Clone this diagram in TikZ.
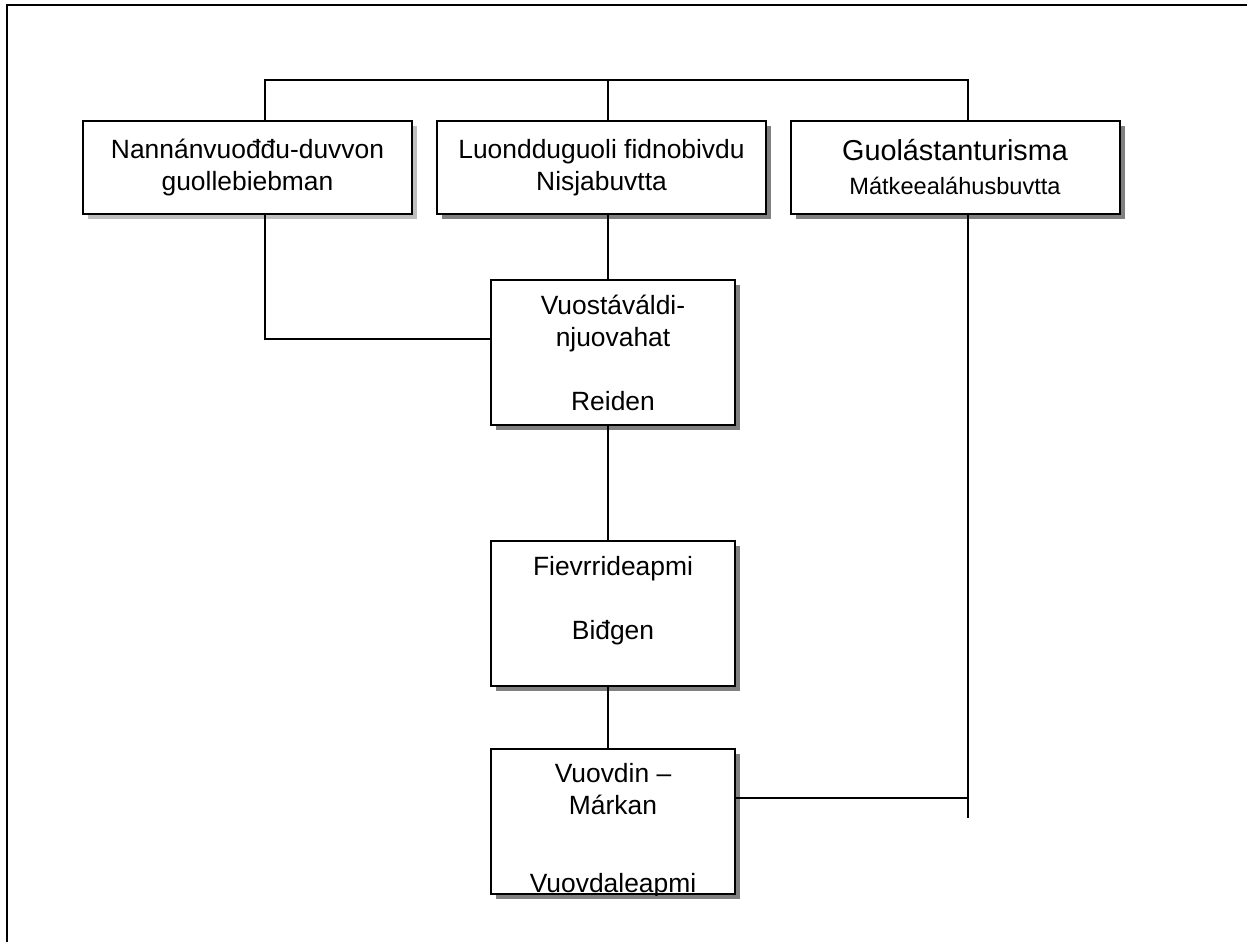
\documentclass[tikz,border=0pt]{standalone}
\usepackage{fontspec}
\setmainfont{Liberation Sans}
\usepackage{tikz}
\usetikzlibrary{positioning,shadows}
\definecolor{suoivan}{gray}{0.5}
\definecolor{suoivanc}{gray}{0.75}
\tikzset{
  boks/.style={rectangle,draw=black,line width=1pt,fill=white,align=center,
    minimum width=164.5pt,minimum height=46.5pt,inner sep=0pt,
    font=\fontsize{13.2}{16}\selectfont,
    drop shadow={shadow xshift=2.5pt,shadow yshift=-2.5pt,fill=#1,opacity=1}},
  boks/.default=suoivan,
  boksg/.style={boks,minimum width=122pt,minimum height=72.5pt},
  teaksta/.style={align=center,inner sep=0pt,font=\fontsize{13.2}{16}\selectfont},
  linja/.style={line width=0.75pt,black},
  ramma/.style={line width=1pt,black},
}

\begin{document}
\begin{tikzpicture}[x=0.5pt,y=-0.5pt]
  \useasboundingbox (0,0) rectangle (1247,942);
  \draw[ramma] (1247,5) -- (7,5) -- (7,942);
  % bajimus ossodagat
  \node[boks=suoivanc] (biebman) at (247.5,167.5) {Nannánvuođđu-duvvon\\guollebiebman};
  \node[boks] (bivdu) at (601.5,167.5) {Luondduguoli fidnobivdu\\Nisjabuvtta};
  \node[boks] (turisma) at (955,167.5)
    {{\fontsize{14.4}{17}\selectfont Guolástanturisma}\\[1pt]{\fontsize{11.8}{14}\selectfont Mátkeealáhusbuvtta}};
  % gaskka ossodagat
  \node[boksg] (reiden) at (613,352.5) {Vuostáváldi-\\njuovahat\\[16pt]Reiden};
  \node[boksg] (bidgen) at (613,613.5) {Fievrrideapmi\\[16pt]Biđgen\\\mbox{}};
  \node[boksg] (vuovdin) at (613,821.5) {};
  \begin{scope}
    \clip (vuovdin.south west) rectangle (vuovdin.north east);
    \node[teaksta,below=7.5pt of vuovdin.north] (vuovdinteaksta) {Vuovdin –\\Márkan\\[23pt]Vuovdaleapmi};
  \end{scope}
  % linjjat
  \coordinate (b1) at (265,80);
  \coordinate (b2) at (608,80);
  \coordinate (b3) at (968,80);
  \coordinate (c1) at (265,339);
  \coordinate (c3) at (968,818);
  \coordinate (c4) at (968,798);
  \draw[linja] (b1 |- biebman.north) -- (b1) -- (b3) -- (b3 |- turisma.north);
  \draw[linja] (b2) -- (b2 |- bivdu.north);
  \draw[linja] (b1 |- biebman.south) -- (c1) -- (c1 -| reiden.west);
  \draw[linja] (b2 |- bivdu.south) -- (b2 |- reiden.north);
  \draw[linja] (b2 |- reiden.south) -- (b2 |- bidgen.north);
  \draw[linja] (b2 |- bidgen.south) -- (b2 |- vuovdin.north);
  \draw[linja] (b3 |- turisma.south) -- (c3);
  \draw[linja] (c4 -| vuovdin.east) -- (c4);
\end{tikzpicture}
\end{document}
